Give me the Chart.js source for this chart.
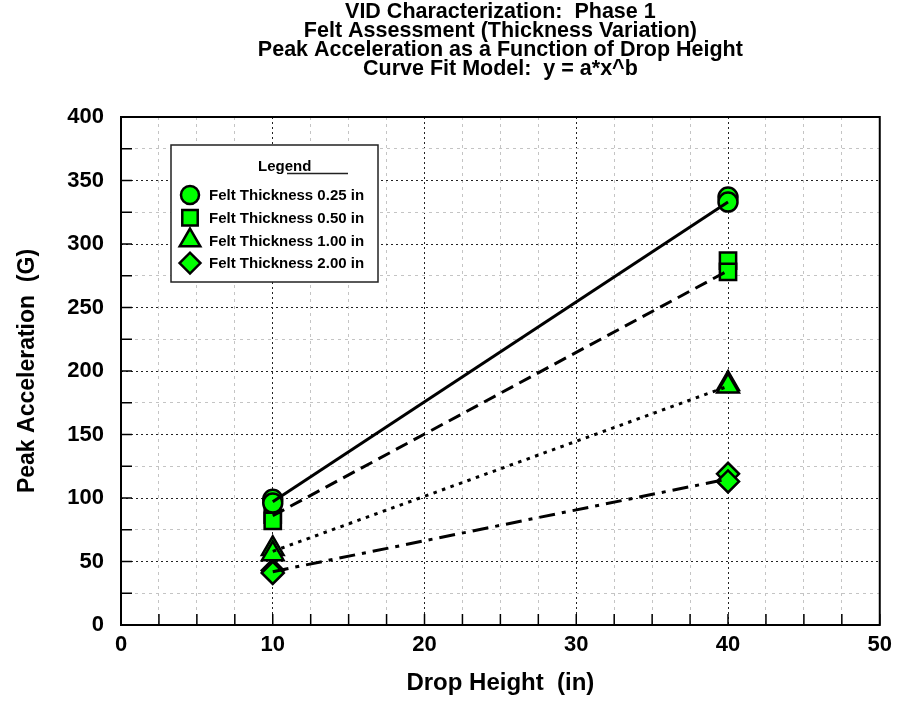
<!DOCTYPE html>
<html>
<head>
<meta charset="utf-8">
<script src="https://cdn.jsdelivr.net/npm/chart.js@4"></script>
<style>
  body { margin: 0; background: #fff; }
  #wrap { width: 899px; height: 703px; }
</style>
</head>
<body>
<div id="wrap"><canvas id="vid-chart" width="899" height="703"></canvas></div>
<script>
// drop heights of the replicate tests (two drops at each height)
const heights = [10, 10, 40, 40];
const peak025 = [99, 96, 337, 333];
const peak050 = [87, 82, 287, 278];
const peak100 = [60, 56, 190, 188];
const peak200 = [43, 41, 119, 113];

// curve fit end points, y = a*x^b
const fitX = [10, 40];
const fit025 = [97, 333];
const fit050 = [86, 279];
const fit100 = [58, 188];
const fit200 = [42, 115];

const seriesNames = ['Felt Thickness 0.25 in', 'Felt Thickness 0.50 in', 'Felt Thickness 1.00 in', 'Felt Thickness 2.00 in'];
const titleLines = ['VID Characterization:  Phase 1', 'Felt Assessment (Thickness Variation)', 'Peak Acceleration as a Function of Drop Height', 'Curve Fit Model:  y = a*x^b'];

const FONT = "'Liberation Sans', Arial, sans-serif";
const green = '#00ff00';
const markers = [
  { style: 'circle', radius: 9.5 },
  { style: 'rect', radius: 11.5 },
  { style: 'triangle', radius: 12.5 },
  { style: 'rectRot', radius: 11 },
];
const dashes = [[], [13, 7], [3.5, 5.5], [16, 7, 4, 7]];

const toXY = (xs, ys) => xs.map((x, i) => ({ x: x, y: ys[i] }));

const pointSets = [peak025, peak050, peak100, peak200].map((ys, i) => ({
  label: seriesNames[i],
  data: toXY(heights, ys),
  showLine: false,
  pointStyle: markers[i].style,
  pointRadius: markers[i].radius,
  pointBackgroundColor: green,
  pointBorderColor: '#000',
  pointBorderWidth: 2.5,
  order: 2,
}));

const fitSets = [fit025, fit050, fit100, fit200].map((ys, i) => ({
  label: 'fit ' + seriesNames[i],
  data: toXY(fitX, ys),
  showLine: true,
  borderColor: '#000',
  borderWidth: 3,
  borderDash: dashes[i],
  pointRadius: 0,
  order: 1,
}));

// tick marks pointing into the plot, plus the frame
const framePlugin = {
  id: 'frame',
  beforeDatasetsDraw(chart) {
    const { ctx, chartArea: a, scales } = chart;
    ctx.save();
    ctx.strokeStyle = '#000';
    ctx.lineWidth = 1.5;
    ctx.beginPath();
    scales.x.ticks.forEach(t => {
      const px = scales.x.getPixelForValue(t.value);
      ctx.moveTo(px, a.bottom);
      ctx.lineTo(px, a.bottom - 11);
    });
    scales.y.ticks.forEach(t => {
      const py = scales.y.getPixelForValue(t.value);
      ctx.moveTo(a.left, py);
      ctx.lineTo(a.left + 11, py);
    });
    ctx.stroke();
    ctx.lineWidth = 2;
    ctx.strokeRect(a.left, a.top, a.right - a.left, a.bottom - a.top);
    ctx.restore();
  },
};

const legendPlugin = {
  id: 'boxLegend',
  afterDatasetsDraw(chart) {
    const { ctx } = chart;
    const x0 = 171, y0 = 145, w = 207, h = 137;
    ctx.save();
    ctx.fillStyle = '#fff';
    ctx.fillRect(x0, y0, w, h);
    ctx.strokeStyle = '#222';
    ctx.lineWidth = 1.5;
    ctx.strokeRect(x0, y0, w, h);

    ctx.fillStyle = '#000';
    ctx.font = 'bold 15px ' + FONT;
    ctx.textBaseline = 'alphabetic';
    ctx.textAlign = 'left';
    ctx.fillText('Legend', 258, 171);
    ctx.lineWidth = 1.5;
    ctx.beginPath();
    ctx.moveTo(287, 173.5);
    ctx.lineTo(348, 173.5);
    ctx.stroke();

    ctx.font = 'bold 15px ' + FONT;
    ctx.textBaseline = 'middle';
    seriesNames.forEach((name, i) => {
      const y = 195 + i * 22.7;
      ctx.fillStyle = green;
      ctx.strokeStyle = '#000';
      ctx.lineWidth = 2.5;
      Chart.helpers.drawPoint(ctx, {
        pointStyle: markers[i].style,
        radius: markers[i].radius * 0.95,
        rotation: 0,
        borderWidth: 2.5,
      }, 190, y);
      ctx.fillStyle = '#000';
      ctx.fillText(name, 209, y + 1);
    });
    ctx.restore();
  },
};

new Chart('vid-chart', {
  type: 'scatter',
  data: { datasets: [...fitSets, ...pointSets] },
  options: {
    responsive: false,
    animation: false,
    layout: { padding: { left: 0, right: 16, top: 0, bottom: 0 } },
    plugins: {
      legend: { display: false },
      tooltip: { enabled: false },
      title: {
        display: true,
        fullSize: false,
        text: titleLines,
        color: '#000',
        font: { family: FONT, size: 21.5, weight: 'bold', lineHeight: '19px' },
        padding: { top: 3, bottom: 38 },
      },
    },
    scales: {
      x: {
        type: 'linear',
        min: 0,
        max: 50,
        afterFit(scale) { scale.height = 78; },
        ticks: {
          stepSize: 2.5,
          autoSkip: false,
          maxRotation: 0,
          padding: 7,
          color: '#000',
          font: { family: FONT, size: 22, weight: 'bold' },
          callback: v => (v % 10 === 0 ? v : ''),
        },
        grid: {
          drawTicks: false,
          lineWidth: 1,
          color: c => (c.tick && c.tick.value % 10 === 0 ? '#222' : '#c4c4c4'),
        },
        border: {
          display: false,
          dash: c => (c.tick && c.tick.value % 10 === 0 ? [2, 3] : [3, 4]),
        },
        title: {
          display: true,
          text: 'Drop Height  (in)',
          color: '#000',
          font: { family: FONT, size: 24, weight: 'bold' },
          padding: { top: 1, bottom: 5 },
        },
      },
      y: {
        type: 'linear',
        min: 0,
        max: 400,
        afterFit(scale) { scale.width = 121; },
        ticks: {
          stepSize: 25,
          autoSkip: false,
          padding: 17,
          color: '#000',
          font: { family: FONT, size: 22, weight: 'bold' },
          callback: v => (v % 50 === 0 ? v : ''),
        },
        grid: {
          drawTicks: false,
          lineWidth: 1,
          color: c => (c.tick && c.tick.value % 50 === 0 ? '#222' : '#c4c4c4'),
        },
        border: {
          display: false,
          dash: c => (c.tick && c.tick.value % 50 === 0 ? [2, 3] : [3, 4]),
        },
        title: {
          display: true,
          text: 'Peak Acceleration  (G)',
          color: '#000',
          font: { family: FONT, size: 23, weight: 'bold' },
          padding: { top: 14, bottom: 0 },
        },
      },
    },
  },
  plugins: [framePlugin, legendPlugin],
});
</script>
</body>
</html>
